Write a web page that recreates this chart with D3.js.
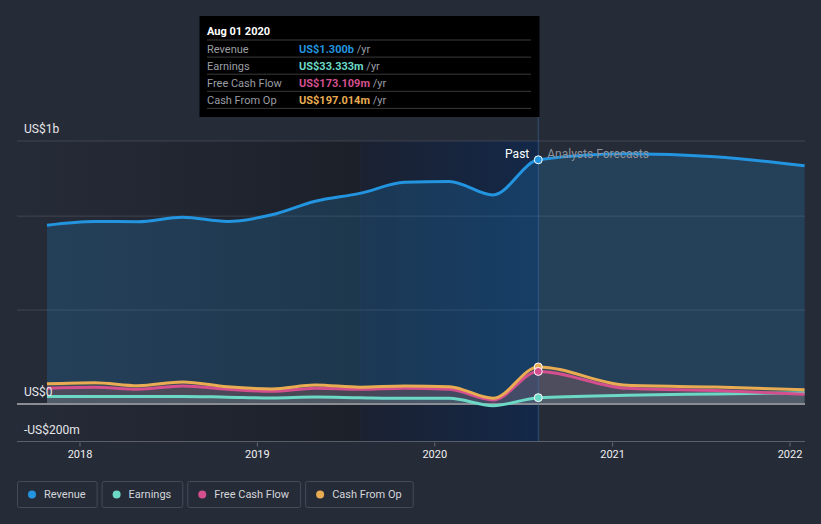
<!DOCTYPE html>
<html><head><meta charset="utf-8">
<script src="https://cdn.jsdelivr.net/npm/d3@7"></script>
<style>
html,body{margin:0;padding:0;background:#262b38;}
svg{display:block;font-family:Roboto,"Open Sans",sans-serif;}
</style></head>
<body>
<svg id="chart" width="821" height="524"></svg>
<script>
// ---------- data (values in US$ billions) ----------
const pastDates = ["2017-10-25","2018-01-31","2018-04-30","2018-07-31","2018-10-31","2019-01-31","2019-04-30","2019-07-31","2019-10-31","2020-01-31","2020-04-30","2020-08-01"];
const forecastDates = ["2020-08-01","2021-01-31","2021-07-31","2022-01-31"];

const revenuePast = [0.952,0.972,0.970,0.994,0.972,1.007,1.079,1.121,1.180,1.185,1.113,1.300];
const earningsPast = [0.039,0.039,0.039,0.040,0.036,0.032,0.037,0.033,0.030,0.030,-0.009,0.0333];
const fcfPast = [0.084,0.089,0.078,0.096,0.078,0.067,0.084,0.078,0.084,0.078,0.021,0.173];
const cfoPast = [0.107,0.113,0.097,0.117,0.091,0.080,0.101,0.089,0.096,0.092,0.030,0.197];

const revenueForecast = [1.300,1.332,1.316,1.268];
const earningsForecast = [0.0333,0.046,0.053,0.060];
const fcfForecast = [0.173,0.083,0.071,0.052];
const cfoForecast = [0.197,0.099,0.090,0.075];

const seriesNames = ["Revenue","Earnings","Free Cash Flow","Cash From Op"];
const seriesColors = ["#2394df","#6cd8c6","#d44f8e","#e9ac52"];
const tooltipValues = ["US$1.300b","US$33.333m","US$173.109m","US$197.014m"];
const tooltipDate = "Aug 01 2020";
const yTickValues = [1.4, 0, -0.2];
const yTickLabels = ["US$1b","US$0","-US$200m"];
const gridValues = [1.4, 1.0, 0.5];
const xTickYears = [2018,2019,2020,2021,2022];
const highlightStart = "2019-08-01";
const nowDate = "2020-08-01";

(function(){
// ---------- setup ----------
const parse = d3.timeParse("%Y-%m-%d");
const svg = d3.select("#chart");
const pLeft = 17, pRight = 805, pTop = 141, pBottom = 441.5;
const x = d3.scaleTime().domain([new Date(2018,0,1), new Date(2022,0,1)]).range([80, 790]);
const y = d3.scaleLinear().domain([-0.2, 1.4]).range([pBottom, pTop]);

const defs = svg.append("defs");
const g1 = defs.append("linearGradient").attr("id","pastGrad").attr("x1","0").attr("x2","1").attr("y1","0").attr("y2","0");
g1.append("stop").attr("offset","0").attr("stop-color","#262b38");
g1.append("stop").attr("offset","1").attr("stop-color","#1c2029");
const g2 = defs.append("linearGradient").attr("id","hiGrad").attr("x1","0").attr("x2","1").attr("y1","0").attr("y2","0");
g2.append("stop").attr("offset","0").attr("stop-color","#1b2131");
g2.append("stop").attr("offset","1").attr("stop-color","#132848");

const xNow = x(parse(nowDate));
const xHi = x(parse(highlightStart));

// backgrounds
svg.append("rect").attr("x",pLeft).attr("y",pTop).attr("width",xHi-pLeft).attr("height",pBottom-pTop).attr("fill","url(#pastGrad)");
svg.append("rect").attr("x",xHi).attr("y",pTop).attr("width",xNow-xHi).attr("height",pBottom-pTop).attr("fill","url(#hiGrad)");

// gridlines
svg.selectAll("line.grid").data(gridValues).enter().append("line")
  .attr("x1",pLeft).attr("x2",pRight).attr("y1",d=>y(d)).attr("y2",d=>y(d))
  .attr("stroke","rgba(255,255,255,0.13)").attr("stroke-width",1);
svg.append("line").attr("x1",pLeft).attr("x2",pRight).attr("y1",y(-0.2)).attr("y2",y(-0.2))
  .attr("stroke","rgba(255,255,255,0.25)").attr("stroke-width",1);

// series
const seriesPast = [revenuePast, earningsPast, fcfPast, cfoPast];
const seriesForecast = [revenueForecast, earningsForecast, fcfForecast, cfoForecast];
const allDates = pastDates.concat(forecastDates.slice(1)).map(parse);
const series = seriesPast.map((p,i)=>p.concat(seriesForecast[i].slice(1)));

const line = d3.line().x(d=>x(d[0])).y(d=>y(d[1])).curve(d3.curveMonotoneX);
const area = d3.area().x(d=>x(d[0])).y0(y(0)).y1(d=>y(d[1])).curve(d3.curveMonotoneX);

const fillOps = [0.2, 0.12, 0.12, 0.12];
[0,3,2,1].forEach(i=>{
  const pts = allDates.map((d,k)=>[d, series[i][k]]);
  svg.append("path").attr("d",area(pts)).attr("fill",seriesColors[i]).attr("fill-opacity",fillOps[i]);
});

// zero line
svg.append("line").attr("x1",pLeft).attr("x2",pRight).attr("y1",y(0)).attr("y2",y(0))
  .attr("stroke","#8a8d94").attr("stroke-width",2);

// lines
[1,2,3,0].forEach(i=>{
  const pts = allDates.map((d,k)=>[d, series[i][k]]);
  svg.append("path").attr("d",line(pts)).attr("fill","none").attr("stroke",seriesColors[i]).attr("stroke-width",3);
});

// now vertical line
svg.append("line").attr("x1",xNow).attr("x2",xNow).attr("y1",117).attr("y2",pBottom)
  .attr("stroke","rgba(60,110,170,0.55)").attr("stroke-width",1);

// now dots
[3,2,1,0].forEach(i=>{
  svg.append("circle").attr("cx",xNow).attr("cy",y(seriesPast[i][seriesPast[i].length-1])).attr("r",4)
    .attr("fill",seriesColors[i]).attr("stroke","#ffffff").attr("stroke-width",1);
});

// Past / Forecast labels
svg.append("text").attr("x",xNow-9).attr("y",158).attr("text-anchor","end").attr("fill","#ffffff").attr("font-size",12).text("Past");
svg.append("text").attr("x",xNow+9).attr("y",158).attr("fill","#8f939b").attr("font-size",12).text("Analysts Forecasts");

// y labels
svg.selectAll("text.ylab").data(yTickValues).enter().append("text")
  .attr("x",24).attr("y",d=>y(d)-8).attr("fill","#e6e7e9").attr("font-size",12)
  .text((d,i)=>yTickLabels[i]);

// x axis ticks and labels
xTickYears.forEach(yr=>{
  const xx = x(new Date(yr,0,1));
  svg.append("line").attr("x1",xx).attr("x2",xx).attr("y1",pBottom+1).attr("y2",pBottom+5).attr("stroke","rgba(255,255,255,0.3)");
  svg.append("text").attr("x",xx).attr("y",458).attr("text-anchor","middle").attr("fill","#f0f0f0").attr("font-size",11).text(yr);
});

// tooltip
const tt = svg.append("g");
tt.append("rect").attr("x",199.5).attr("y",16).attr("width",340).attr("height",101).attr("fill","#000000");
tt.append("text").attr("x",207).attr("y",35).attr("fill","#ffffff").attr("font-size",11).attr("font-weight","bold").text(tooltipDate);
const rowY0 = 40;
for (let i=0;i<5;i++){
  tt.append("line").attr("x1",207).attr("x2",531).attr("y1",rowY0+i*17.1).attr("y2",rowY0+i*17.1).attr("stroke","#3a3a3a").attr("stroke-width",1);
}
seriesNames.forEach((n,i)=>{
  const yy = rowY0 + i*17.1 + 12.5;
  tt.append("text").attr("x",207).attr("y",yy).attr("fill","#9b9ea4").attr("font-size",11).text(n);
  const t = tt.append("text").attr("x",299).attr("y",yy).attr("font-size",11);
  t.append("tspan").attr("fill",seriesColors[i]).attr("font-weight","bold").text(tooltipValues[i]);
  t.append("tspan").attr("fill","#9b9ea4").text(" /yr");
});

// legend
const legend = svg.append("g");
let lx = 17;
seriesNames.forEach((n,i)=>{
  const g = legend.append("g");
  const txt = g.append("text").attr("x",lx+27).attr("y",498).attr("fill","#d4d6da").attr("font-size",11).text(n);
  const w = txt.node().getComputedTextLength() + 38;
  g.insert("rect","text").attr("x",lx+0.5).attr("y",481.5).attr("width",w).attr("height",26).attr("rx",2)
    .attr("fill","none").attr("stroke","#454b57").attr("stroke-width",1);
  g.append("circle").attr("cx",lx+15).attr("cy",494.5).attr("r",4).attr("fill",seriesColors[i]);
  lx += w + 5;
});
})();
</script>
</body></html>
